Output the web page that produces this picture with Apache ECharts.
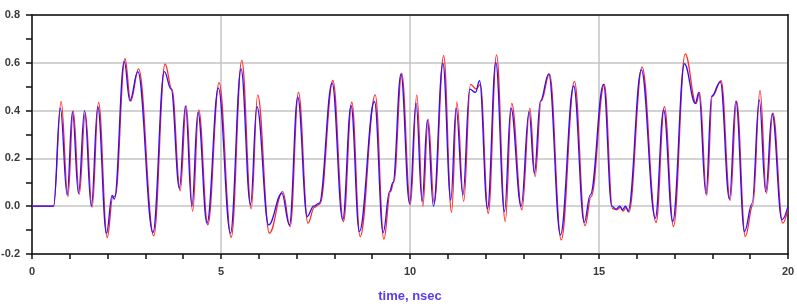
<!DOCTYPE html>
<html><head><meta charset="utf-8">
<script src="https://cdn.jsdelivr.net/npm/echarts@6/dist/echarts.min.js"></script>
<style>html,body{margin:0;padding:0;background:#fff}#c{width:797px;height:308px}</style>
</head><body><div id="c"></div>
<script>
// time (nsec) of read extrema / shoulders
const times = [0.00,0.57,0.75,0.93,1.07,1.23,1.39,1.57,1.74,1.97,2.12,2.18,2.44,2.59,2.80,3.20,3.50,3.68,3.90,4.06,4.23,4.39,4.63,4.93,5.25,5.53,5.78,5.95,6.26,6.61,6.81,7.03,7.28,7.45,7.60,7.94,8.22,8.44,8.66,9.06,9.29,9.46,9.55,9.76,9.99,10.16,10.32,10.46,10.62,10.87,11.08,11.22,11.40,11.58,11.73,11.84,12.05,12.27,12.50,12.67,12.94,13.15,13.29,13.45,13.67,13.98,14.33,14.61,14.77,15.12,15.34,15.45,15.55,15.62,15.70,15.77,16.12,16.49,16.71,16.95,17.26,17.55,17.64,17.83,17.98,18.21,18.45,18.62,18.85,19.05,19.24,19.41,19.58,19.84,20.00];
const blueValues = [0,0,0.41,0.047,0.396,0.054,0.40,0.0,0.417,-0.113,0.045,0.03,0.605,0.442,0.563,-0.11,0.563,0.49,0.075,0.42,0.0,0.392,-0.071,0.494,-0.113,0.575,0.006,0.417,-0.078,0.054,-0.078,0.456,-0.043,0.0,0.013,0.515,-0.057,0.421,-0.106,0.438,-0.11,0.061,0.10,0.552,0.01,0.431,0.02,0.361,0.0,0.598,0.026,0.41,0.047,0.49,0.476,0.525,-0.01,0.601,-0.022,0.41,0.0,0.396,0.138,0.44,0.554,-0.12,0.503,-0.068,0.047,0.51,0.0,-0.012,0.0,-0.015,0.0,-0.02,0.57,-0.05,0.403,-0.064,0.596,0.43,0.476,0.052,0.46,0.52,0.03,0.44,-0.106,0.012,0.445,0.061,0.386,-0.057,0.0];
const redValues = [0,0,0.438,0.04,0.40,0.05,0.39,-0.005,0.434,-0.131,0.04,0.042,0.617,0.44,0.575,-0.124,0.595,0.49,0.065,0.42,-0.022,0.403,-0.078,0.517,-0.13,0.61,-0.011,0.466,-0.113,0.061,-0.085,0.476,-0.071,-0.005,0.01,0.526,-0.064,0.435,-0.127,0.466,-0.138,0.06,0.10,0.556,0.006,0.466,0.0,0.364,0.013,0.63,-0.026,0.435,0.02,0.51,0.49,0.51,-0.03,0.633,-0.064,0.43,-0.015,0.41,0.124,0.44,0.554,-0.141,0.522,-0.082,0.04,0.51,-0.01,-0.015,-0.005,-0.02,-0.005,-0.025,0.582,-0.068,0.417,-0.085,0.637,0.43,0.476,0.045,0.46,0.525,0.024,0.44,-0.127,0.005,0.484,0.054,0.39,-0.071,-0.01];
const xTickLabels = ['0','5','10','15','20'];
const yTickLabels = ['-0.2','0.0','0.2','0.4','0.6','0.8'];
const xName = 'time, nsec';

const redTimeShift = 0.02; // red trace lags blue slightly
const pair = (ts, vs, sh) => ts.map((t, i) => [Math.min(20, t + (i > 1 ? sh : 0)), vs[i]]);

const chart = echarts.init(document.getElementById('c'), null, {renderer: 'canvas'});
const labelFont = {fontFamily: 'Liberation Sans, Arial, sans-serif', fontSize: 11, fontWeight: 'bold', color: '#3a3a3a'};
const frameAxis = (color, w) => ({show: true, lineStyle: {color: color, width: w}, onZero: false});
chart.setOption({
  animation: false,
  backgroundColor: '#fff',
  grid: {left: 32, top: 15, right: 9, bottom: 54, containLabel: false, outerBoundsMode: 'none'},
  xAxis: [{
    type: 'value', min: 0, max: 20, interval: 5,
    name: xName, nameLocation: 'middle', nameGap: 36,
    nameTextStyle: {fontFamily: 'Liberation Sans, Arial, sans-serif', fontSize: 13, fontWeight: 'bold', color: '#5a3cf0'},
    axisLine: {show: true, onZero: false, lineStyle: {color: '#111', width: 1.5}},
    axisTick: {show: true, length: 5, lineStyle: {color: '#111', width: 1.5}},
    minorTick: {show: true, splitNumber: 5, length: 5, lineStyle: {color: '#111', width: 1.5}},
    axisLabel: Object.assign({margin: 12, formatter: (v) => xTickLabels[Math.round(v / 5)]}, labelFont),
    splitLine: {show: true, lineStyle: {color: '#c4c4c4', width: 1.5}}
  }, {
    type: 'value', min: 0, max: 20, position: 'top',
    axisLine: frameAxis('#111', 1.5), axisTick: {show: false}, axisLabel: {show: false}, splitLine: {show: false}
  }],
  yAxis: [{
    type: 'value', min: -0.2, max: 0.8, interval: 0.2,
    axisLine: {show: true, onZero: false, lineStyle: {color: '#111', width: 1.5}},
    axisTick: {show: true, length: 6, lineStyle: {color: '#111', width: 1.5}},
    minorTick: {show: true, splitNumber: 2, length: 6, lineStyle: {color: '#111', width: 1.5}},
    axisLabel: Object.assign({margin: 12, formatter: (v) => yTickLabels[Math.round((v + 0.2) / 0.2)]}, labelFont),
    splitLine: {show: true, lineStyle: {color: '#c4c4c4', width: 1.5}}
  }, {
    type: 'value', min: -0.2, max: 0.8, position: 'right',
    axisLine: frameAxis('#444', 2), axisTick: {show: false}, axisLabel: {show: false}, splitLine: {show: false}
  }],
  series: [
    {type: 'line', name: 'red', data: pair(times, redValues, redTimeShift), smooth: 0.4, smoothMonotone: 'x', showSymbol: false,
     lineStyle: {color: '#ff2a2a', width: 1.3}, z: 2},
    {type: 'line', name: 'blue', data: pair(times, blueValues, 0), smooth: 0.4, smoothMonotone: 'x', showSymbol: false,
     lineStyle: {color: '#2a10ff', width: 1.3}, z: 3}
  ]
});
</script></body></html>
